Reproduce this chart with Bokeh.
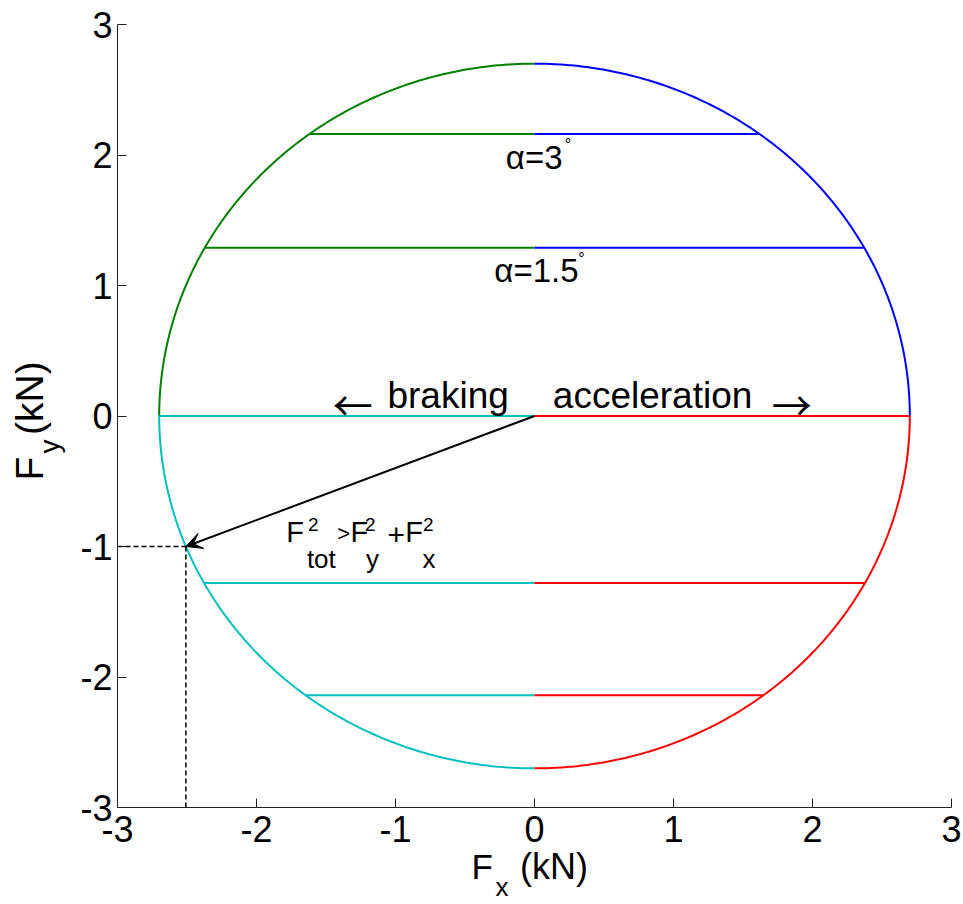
import numpy as np
from bokeh.plotting import figure
from bokeh.models import ColumnDataSource, FixedTicker, Arrow, VeeHead
from bokeh.embed import file_html
from bokeh.resources import INLINE

# Friction circle: total available tyre force (kN)
F_TOT = 2.7

# Lateral force levels for the slip angles (kN)
alpha_labels = ["α=3", "α=1.5"]
fy_upper = [2.16, 1.29]
fy_lower = [-1.28, -2.14]

# Example operating point on the circle (kN)
point_fy = -1.0

ticks = [-3, -2, -1, 0, 1, 2, 3]
tick_labels = {t: str(t) for t in ticks}

# Quadrant colours (MATLAB default order)
C_UL, C_UR, C_LL, C_LR = "#008000", "#0000ff", "#00bfbf", "#ff0000"
FONT = "Liberation Sans"
ARROW_FONT = "Noto Sans CJK JP"

W, H = 963, 904
# plotting area of the axes inside the canvas (pixels)
AX_L, AX_R, AX_T, AX_B = 117, 951, 24, 807
ux = (AX_R - AX_L) / 6.0
uy = (AX_B - AX_T) / 6.0
x_range = (-3 - AX_L / ux, 3 + (W - AX_R) / ux)
y_range = (-3 - (H - AX_B) / uy, 3 + AX_T / uy)

p = figure(width=W, height=H, x_range=x_range, y_range=y_range,
           output_backend="svg", toolbar_location=None,
           min_border=0)
p.outline_line_color = None
p.xgrid.visible = False
p.ygrid.visible = False
p.background_fill_color = "white"
p.border_fill_color = "white"

for ax in (p.xaxis[0], p.yaxis[0]):
    ax.fixed_location = -3
    ax.bounds = (-3, 3)
    ax.ticker = FixedTicker(ticks=ticks)
    ax.major_label_overrides = tick_labels
    ax.major_tick_in = 9
    ax.major_tick_out = 0
    ax.minor_tick_line_color = None
    ax.axis_line_color = "#222222"
    ax.major_tick_line_color = "#222222"
    ax.major_label_text_font = FONT
    ax.major_label_text_font_size = "36px"
    ax.major_label_text_color = "black"
p.xaxis.major_label_standoff = 8
p.yaxis.major_label_standoff = 5

# Circle drawn as four coloured quarter arcs
quarters = [(np.pi / 2, np.pi, C_UL), (0.0, np.pi / 2, C_UR),
            (np.pi, 1.5 * np.pi, C_LL), (1.5 * np.pi, 2 * np.pi, C_LR)]
for a0, a1, col in quarters:
    th = np.linspace(a0, a1, 240)
    p.line(F_TOT * np.cos(th), F_TOT * np.sin(th), line_color=col, line_width=2)

# Horizontal lines at each force level, split at Fx = 0
seg = dict(x0=[], x1=[], y=[], color=[])
for levels, cl, cr in ((fy_upper, C_UL, C_UR), ([0.0], C_LL, C_LR), (fy_lower, C_LL, C_LR)):
    for fy in levels:
        half = np.sqrt(F_TOT ** 2 - fy ** 2)
        seg["x0"] += [-half, 0.0]
        seg["x1"] += [0.0, half]
        seg["y"] += [fy, fy]
        seg["color"] += [cl, cr]
p.segment(x0="x0", y0="y", x1="x1", y1="y", color="color", line_width=2,
          source=ColumnDataSource(seg))

# Operating point on the circle, braking side
point_fx = -np.sqrt(F_TOT ** 2 - point_fy ** 2)
p.line([-3, point_fx], [point_fy, point_fy], line_color="black", line_width=1.5, line_dash="5 3")
p.line([point_fx, point_fx], [point_fy, -3], line_color="black", line_width=1.5, line_dash="5 3")
p.add_layout(Arrow(x_start=0, y_start=0, x_end=point_fx, y_end=point_fy,
                   line_color="black", line_width=2,
                   end=VeeHead(size=16, fill_color="black", line_color="black", line_width=1)))

# Text pieces: anchored at a data point, shifted in pixels (dy > 0 is up).
# BASE_K compensates the renderer's baseline drop (fraction of font size).
BASE_K = 0.37
txt = dict(x=[], y=[], text=[], size=[], dx=[], dy=[], align=[], angle=[], font=[])


def lab(x, y, text, size, dx=0.0, dy=0.0, align="left", angle=0.0, font=FONT):
    if angle == 0.0:
        dy += BASE_K * size
    else:
        dx -= BASE_K * size
    txt["x"].append(x)
    txt["y"].append(y)
    txt["text"].append(text)
    txt["size"].append(f"{size}px")
    txt["dx"].append(dx)
    txt["dy"].append(-dy)
    txt["align"].append(align)
    txt["angle"].append(angle)
    txt["font"].append(font)


# Slip-angle labels under the upper lines
lab(0, fy_upper[0], alpha_labels[0], 33, dx=-28.7, dy=-35.7)
lab(0, fy_upper[0], "°", 16, dx=30.3, dy=-15.9)
lab(0, fy_upper[1], alpha_labels[1], 33, dx=-40.2, dy=-35.5)
lab(0, fy_upper[1], "°", 16, dx=43.8, dy=-17)

# Direction labels along Fy = 0
lab(0, 0, "←", 40, dx=-201.7, dy=-2.7, font=ARROW_FONT)
lab(0, 0, "braking", 37, dx=-25.7, dy=7, align="right")
lab(0, 0, "acceleration", 37, dx=18.3, dy=7)
lab(0, 0, "→", 40, dx=277.3, dy=-2.7, align="right", font=ARROW_FONT)

# F_tot^2 > F_y^2 + F_x^2 next to the arrow tip
eq = [("F", 29, 0, 0), ("2", 19, 21.6, 11.3), ("tot", 26, 20.6, -26),
      (">", 22, 51, 1.6),
      ("F", 29, 64.3, 0), ("2", 19, 78.6, 11.3), ("y", 26, 79.6, -26),
      ("+", 30, 101.1, -3.2),
      ("F", 29, 119, 0), ("2", 19, 136.6, 11.3), ("x", 26, 136.3, -26)]
for t, size, dx, dy in eq:
    lab(point_fx, point_fy, t, size, dx=100.4 + dx, dy=3.7 + dy)

# Axis titles with subscripts
lab(0, -3, "F", 35, dx=-63, dy=-72.3)
lab(0, -3, "x", 26, dx=-39, dy=-89)
lab(0, -3, "(kN)", 36, dx=-14.4, dy=-72.3)

lab(-3, 0, "F", 39, dx=-74, dy=-64.5, angle=np.pi / 2)
lab(-3, 0, "y", 28, dx=-58, dy=-37.5, angle=np.pi / 2)
lab(-3, 0, "(kN)", 39, dx=-74, dy=-18.9, angle=np.pi / 2)

p.text(x="x", y="y", text="text", x_offset="dx", y_offset="dy", angle="angle",
       text_font="font", text_font_size="size", text_align="align",
       text_baseline="alphabetic", text_color="black", source=ColumnDataSource(txt))

open("out.html", "w").write(file_html(p, INLINE))
